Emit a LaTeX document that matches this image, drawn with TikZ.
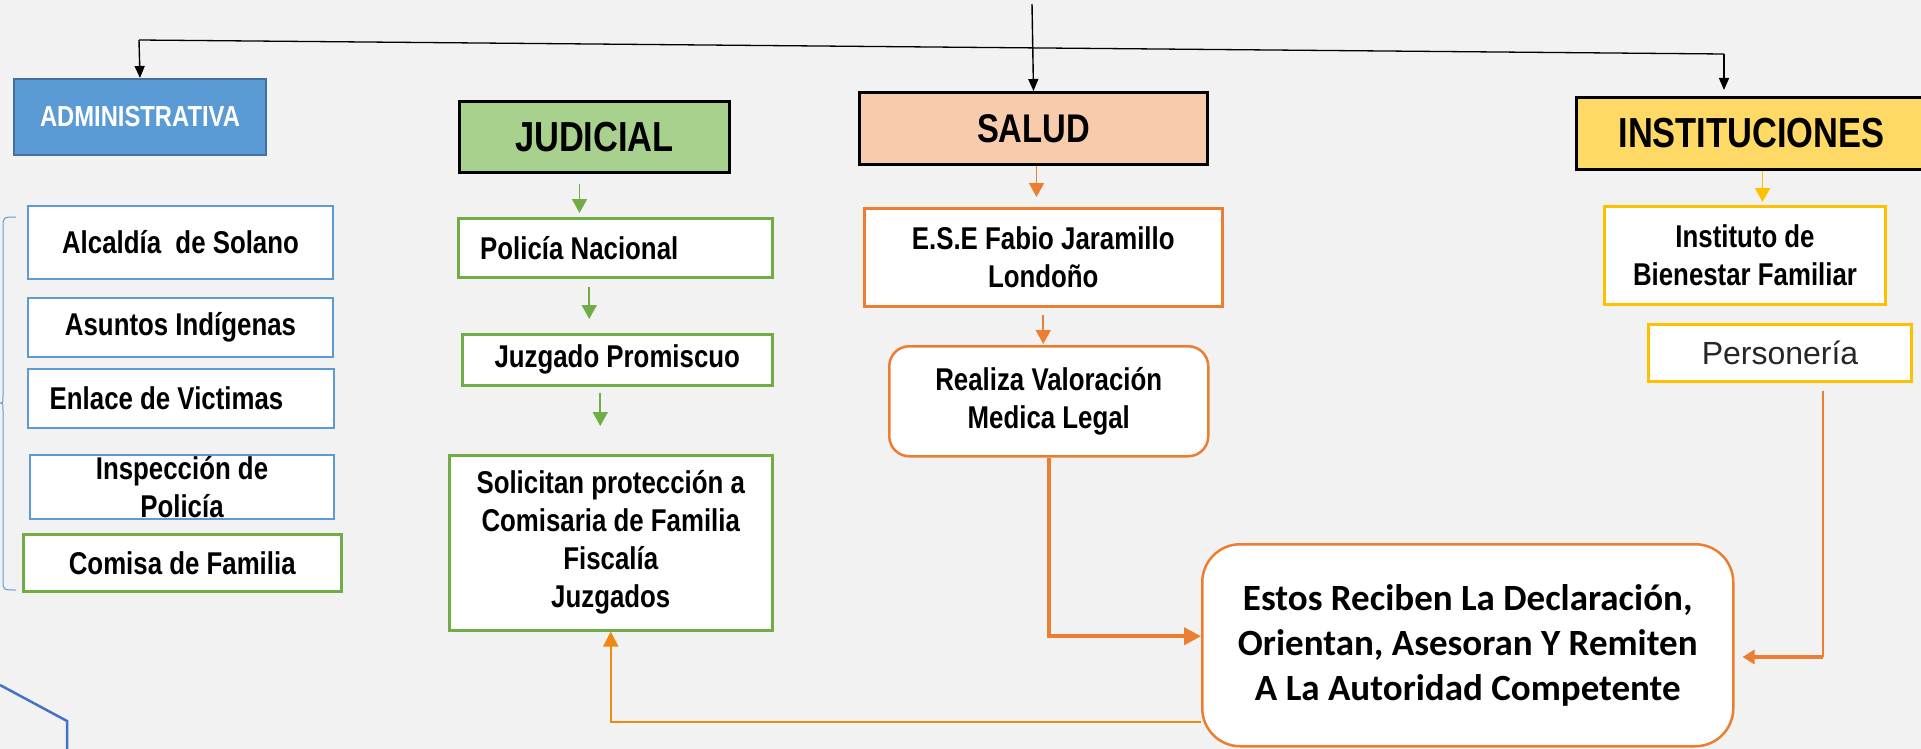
\documentclass[tikz,border=0pt]{standalone}
\usepackage{fontspec}
\setmainfont{Liberation Sans}
\newfontfamily\nar[FakeStretch=0.82]{Liberation Sans}
\newfontfamily\calb{Carlito}
\usetikzlibrary{arrows.meta}
\definecolor{bg}{HTML}{F2F2F2}
\definecolor{cblue}{HTML}{5B9BD5}
\definecolor{cbluedk}{HTML}{41719C}
\definecolor{cgreen}{HTML}{70AD47}
\definecolor{corange}{HTML}{ED7D31}
\definecolor{cyellow}{HTML}{FFC000}
\definecolor{cjud}{HTML}{A9D18E}
\definecolor{csal}{HTML}{F8CBAD}
\definecolor{cinst}{HTML}{FFD966}
\definecolor{cfb}{HTML}{EE8A12}
\definecolor{cdeco}{HTML}{4472C4}
\definecolor{cgray}{HTML}{262626}
\begin{document}
\begin{tikzpicture}[x=1pt,y=-1pt,
  bx/.style={draw, fill=white, inner sep=0pt, anchor=north west, align=center,
    font=\nar\bfseries\fontsize{31.5}{38}\selectfont},
  hdr/.style={draw=black, line width=3pt, inner sep=0pt, anchor=north west, align=center},
  bluebox/.style={bx, draw=cblue, line width=2pt},
  greenbox/.style={bx, draw=cgreen, line width=2.5pt},
  orangebox/.style={bx, draw=corange, line width=2.5pt},
  yellowbox/.style={bx, draw=cyellow, line width=3pt},
  arr/.style={-{Triangle[length=12pt,width=10pt]}, line width=1.4pt, black},
  garr/.style={-{Triangle[length=14pt,width=15pt]}, line width=1.8pt, cgreen},
  oarr/.style={-{Triangle[length=14pt,width=15pt]}, line width=1.8pt, corange},
  yarr/.style={-{Triangle[length=14pt,width=15pt]}, line width=1.8pt, cyellow},
  othick/.style={-{Triangle[length=17pt,width=17pt]}, line width=4pt, corange},
  fbarr/.style={-{Triangle[length=15pt,width=15pt]}, line width=1.5pt, cfb}
]
\fill[bg] (0,0) rectangle (1921,749);
\useasboundingbox (0,0) rectangle (1921,749);

% headers
\node[hdr, draw=cbluedk, line width=2pt, fill=cblue, minimum width=252pt, minimum height=76pt,
  font=\nar\bfseries\fontsize{29}{34}\selectfont, text=white] (adm) at (13,78) {ADMINISTRATIVA};
\node[hdr, fill=cjud, minimum width=270pt, minimum height=71pt,
  font=\nar\bfseries\fontsize{42}{48}\selectfont] (jud) at (458,100) {JUDICIAL};
\node[hdr, fill=csal, minimum width=348pt, minimum height=72pt,
  font=\nar\bfseries\fontsize{40}{46}\selectfont] (sal) at (858,91) {SALUD};
\node[hdr, fill=cinst, minimum width=350pt, minimum height=72pt,
  font=\nar\bfseries\fontsize{42}{48}\selectfont] (inst) at (1575,96) {INSTITUCIONES};

% administrative column
\node[bluebox, minimum width=305pt, minimum height=73pt] (alc) at (27,205) {Alcaldía~ de Solano};
\node[bluebox, minimum width=305pt, minimum height=59pt] (asu) at (27,297) {Asuntos Indígenas};
\node[bluebox, minimum width=306pt, minimum height=59pt] (enl) at (27,368) {Enlace de Victimas\hspace*{29pt}};
\node[bluebox, minimum width=304pt, minimum height=64pt] (insp) at (29,454) {};
\node[align=center, inner sep=0pt, font=\nar\bfseries\fontsize{31.5}{38}\selectfont] (insptxt) at (insp.center) {Inspección de\\Policía};
\node[greenbox, minimum width=318pt, minimum height=57pt] (com) at (22,533) {Comisa de Familia};

\draw[cblue, line width=1pt] (16,217) .. controls (3,217) .. (3,228) -- (3,396)
  .. controls (3,403) .. (0,403) .. controls (3,403) .. (3,410) -- (3,580)
  .. controls (3,590) .. (16,590);

% judicial column
\node[greenbox, minimum width=314pt, minimum height=59pt] (pol) at (457,217) {Policía Nacional\hspace*{72pt}};
\node[greenbox, minimum width=310pt, minimum height=51pt] (juz) at (461,333) {Juzgado Promiscuo};
\node[greenbox, minimum width=323pt, minimum height=175pt] (sol) at (448,454) {Solicitan protección a\\Comisaria de Familia\\Fiscalía\\Juzgados};

% salud column
\node[orangebox, minimum width=358pt, minimum height=98pt] (ese) at (863,207) {E.S.E Fabio Jaramillo\\Londoño};
\node[orangebox, rounded corners=20pt, minimum width=319pt, minimum height=110pt] (rea) at (888,345) {Realiza Valoración\\Medica Legal};

% instituciones column
\node[yellowbox, minimum width=281pt, minimum height=98pt] (ibf) at (1603,205) {Instituto de\\Bienestar Familiar};
\node[yellowbox, minimum width=263pt, minimum height=57pt, font=\fontsize{32}{38}\selectfont, text=cgray] (per) at (1647,323) {Personería};

% central box
\node[orangebox, rounded corners=38pt, minimum width=531pt, minimum height=202pt,
  font=\calb\bfseries\fontsize{37}{45}\selectfont] (est) at (1201,543)
  {Estos Reciben La Declaración,\\Orientan, Asesoran Y Remiten\\A La Autoridad Competente};

% top connectors
\coordinate (top) at (1032,4);
\coordinate (hl) at (139,40);
\coordinate (hr) at (1724,54);
\draw[line width=1.3pt] (hl) -- (hr);
\draw[arr] (hl) -- (adm.north);
\draw[arr] (top) -- (sal.north);
\draw[arr, shorten >=6pt] (hr) -- (hr |- inst.north);

% green arrows
\draw[garr, shorten <=10pt, shorten >=4pt] ([xshift=-15pt]jud.south) -- ([xshift=-15pt]jud.south |- pol.north);
\draw[garr, shorten <=8pt, shorten >=14pt] ([xshift=-26pt]pol.south) -- ([xshift=-26pt]pol.south |- juz.north);
\draw[garr, shorten <=6pt, shorten >=28pt] ([xshift=-17pt]juz.south) -- ([xshift=-17pt]juz.south |- sol.north);

% orange arrows
\draw[oarr, shorten >=10pt] ([xshift=3pt]sal.south) -- ([xshift=3pt]sal.south |- ese.north);
\draw[oarr, shorten <=7pt, shorten >=1pt] (ese.south) -- (ese.south |- rea.north);

% yellow arrow
\draw[yarr, shorten >=3pt] ([xshift=11pt]inst.south) -- ([xshift=11pt]inst.south |- ibf.north);

% thick orange
\draw[othick] (rea.south) |- ([yshift=9pt]est.west);
\coordinate (p1) at (1823,391);
\coordinate (p2) at (1823,657);
\draw[corange, line width=1.3pt] (p1) -- (p2);
\draw[-{Triangle[length=12pt,width=14pt]}, line width=4pt, corange] (p2) -- ([xshift=8pt]est.east |- p2);

% feedback
\coordinate (fb) at (1201,722);
\draw[fbarr] (fb) -| (sol.south);

% decoration bottom left
\draw[cdeco, line width=2.5pt] (0,685) -- (67,721) -- (67,749);
\end{tikzpicture}
\end{document}
